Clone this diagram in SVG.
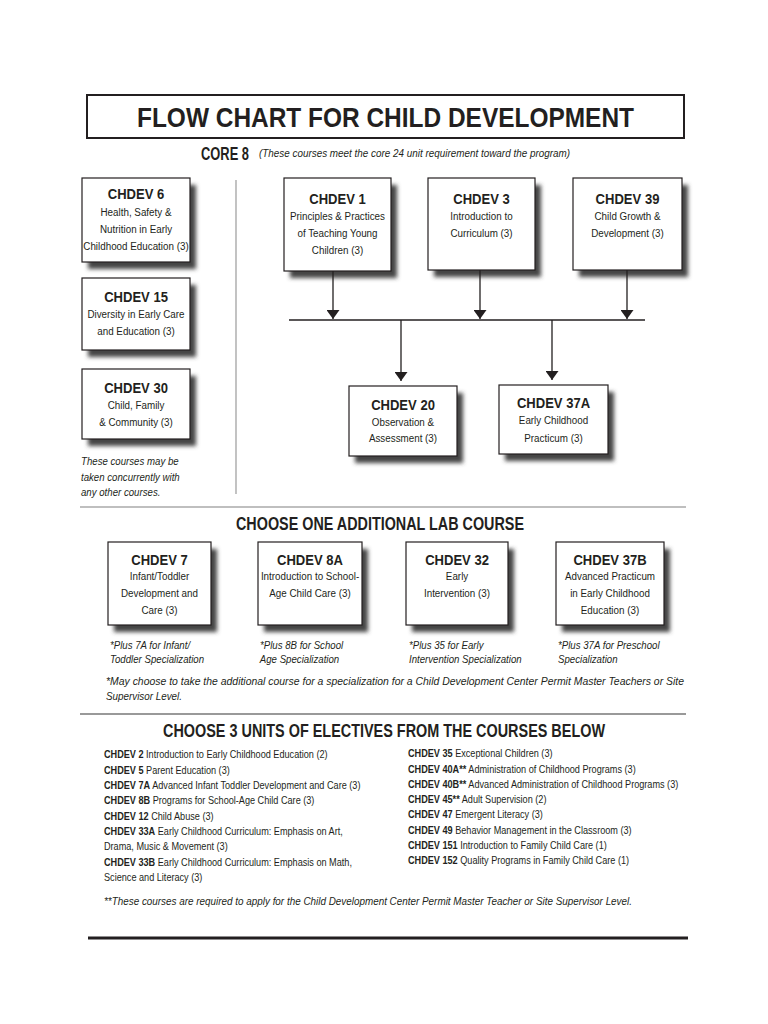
<svg xmlns="http://www.w3.org/2000/svg" width="768" height="1024" viewBox="0 0 768 1024">
<style>
text{font-family:"Liberation Sans",Arial,sans-serif;fill:#231f20}
.t,.d,.n,.e{transform-box:fill-box}
.t{font-size:14.5px;font-weight:bold;text-anchor:middle;transform-origin:center;transform:scaleX(.9)}
.d{font-size:11.5px;text-anchor:middle;transform-origin:center;transform:scaleX(.855)}
.h{font-size:18px;font-weight:bold;text-anchor:middle}
.n{font-size:11.5px;font-style:italic;transform-origin:left;transform:scaleX(.84)}
.e{font-size:10.5px;transform-origin:left;transform:scaleX(.87)}
.e tspan.b{font-weight:bold}
.box{fill:#fff;stroke:#231f20;stroke-width:1.2}
.sh{fill:#444;filter:url(#blur)}
.ln{stroke:#231f20;stroke-width:1.3;fill:none}
</style>
<defs>
<filter id="blur" x="-20%" y="-20%" width="140%" height="140%"><feGaussianBlur stdDeviation="2.2"/></filter>
<marker id="ar" viewBox="0 0 9 13" refX="9" refY="6.5" markerWidth="9" markerHeight="13" markerUnits="userSpaceOnUse" orient="auto"><path d="M0,0 L9,6.5 L0,13 z" fill="#231f20"/></marker>
</defs>
<rect width="768" height="1024" fill="#fff"/>

<g id="title">
<rect x="87" y="95" width="597" height="43" fill="#fff" stroke="#231f20" stroke-width="2"/>
<text x="385.5" y="127" font-size="28" font-weight="bold" text-anchor="middle" textLength="497" lengthAdjust="spacingAndGlyphs">FLOW CHART FOR CHILD DEVELOPMENT</text>
</g>
<g id="core-heading">
<text x="201" y="160" font-size="18.5" font-weight="bold" textLength="48" lengthAdjust="spacingAndGlyphs">CORE 8</text>
<text x="259" y="157" font-size="11" font-style="italic" textLength="311" lengthAdjust="spacingAndGlyphs">(These courses meet the core 24 unit requirement toward the program)</text>
</g>

<g id="chdev6">
<rect class="sh" x="88" y="185" width="108" height="84"/>
<rect class="box" x="82" y="178" width="108" height="84"/>
<text class="t" x="136" y="199">CHDEV 6</text>
<text class="d" x="136" y="216">Health, Safety &amp;</text>
<text class="d" x="136" y="233">Nutrition in Early</text>
<text class="d" x="136" y="250">Childhood Education (3)</text>
</g>
<g id="chdev15">
<rect class="sh" x="88" y="285" width="108" height="72"/>
<rect class="box" x="82" y="278" width="108" height="72"/>
<text class="t" x="136" y="302">CHDEV 15</text>
<text class="d" x="136" y="318">Diversity in Early Care</text>
<text class="d" x="136" y="335">and Education (3)</text>
</g>
<g id="chdev30">
<rect class="sh" x="88" y="376" width="108" height="70"/>
<rect class="box" x="82" y="369" width="108" height="70"/>
<text class="t" x="136" y="393">CHDEV 30</text>
<text class="d" x="136" y="409">Child, Family</text>
<text class="d" x="136" y="426">&amp; Community (3)</text>
</g>
<g id="left-note">
<text class="n" x="81" y="465">These courses may be</text>
<text class="n" x="81" y="481">taken concurrently with</text>
<text class="n" x="81" y="496">any other courses.</text>
</g>

<g id="chdev1">
<rect class="sh" x="290" y="185" width="107" height="93"/>
<rect class="box" x="284" y="178" width="107" height="93"/>
<text class="t" x="337.5" y="204">CHDEV 1</text>
<text class="d" x="337.5" y="220">Principles &amp; Practices</text>
<text class="d" x="337.5" y="237">of Teaching Young</text>
<text class="d" x="337.5" y="254">Children (3)</text>
</g>
<g id="chdev3">
<rect class="sh" x="434" y="185" width="107" height="92"/>
<rect class="box" x="428" y="178" width="107" height="92"/>
<text class="t" x="481.5" y="204">CHDEV 3</text>
<text class="d" x="481.5" y="220">Introduction to</text>
<text class="d" x="481.5" y="237">Curriculum (3)</text>
</g>
<g id="chdev39">
<rect class="sh" x="579" y="185" width="109" height="92"/>
<rect class="box" x="573" y="178" width="109" height="92"/>
<text class="t" x="627.5" y="204">CHDEV 39</text>
<text class="d" x="627.5" y="220">Child Growth &amp;</text>
<text class="d" x="627.5" y="237">Development (3)</text>
</g>
<g id="chdev20">
<rect class="sh" x="355" y="393" width="108" height="70"/>
<rect class="box" x="349" y="386" width="108" height="70"/>
<text class="t" x="403" y="410">CHDEV 20</text>
<text class="d" x="403" y="426">Observation &amp;</text>
<text class="d" x="403" y="442">Assessment (3)</text>
</g>
<g id="chdev37a">
<rect class="sh" x="505" y="392" width="109" height="69"/>
<rect class="box" x="499" y="385" width="109" height="69"/>
<text class="t" x="553.5" y="408">CHDEV 37A</text>
<text class="d" x="553.5" y="424">Early Childhood</text>
<text class="d" x="553.5" y="442">Practicum (3)</text>
</g>

<g id="connectors">
<line x1="236" y1="180" x2="236" y2="494" stroke="#9a9a9a" stroke-width="1.2"/>
<line class="ln" x1="333" y1="271" x2="333" y2="319" marker-end="url(#ar)"/>
<line class="ln" x1="480" y1="270" x2="480" y2="319" marker-end="url(#ar)"/>
<line class="ln" x1="627" y1="270" x2="627" y2="319" marker-end="url(#ar)"/>
<line class="ln" x1="289" y1="320" x2="645" y2="320"/>
<line class="ln" x1="401" y1="320" x2="401" y2="381" marker-end="url(#ar)"/>
<line class="ln" x1="552" y1="320" x2="552" y2="380" marker-end="url(#ar)"/>
<line x1="80" y1="507" x2="686" y2="507" stroke="#aaa" stroke-width="1.3"/>
<line x1="80" y1="714" x2="686" y2="714" stroke="#999" stroke-width="2"/>
<line x1="88" y1="938" x2="688" y2="938" stroke="#231f20" stroke-width="3"/>
</g>

<g id="lab-heading">
<text class="h" x="380" y="530" textLength="288" lengthAdjust="spacingAndGlyphs">CHOOSE ONE ADDITIONAL LAB COURSE</text>
</g>
<g id="chdev7">
<rect class="sh" x="114" y="549" width="103" height="83"/>
<rect class="box" x="108" y="542" width="103" height="83"/>
<text class="t" x="159.5" y="565">CHDEV 7</text>
<text class="d" x="159.5" y="580">Infant/Toddler</text>
<text class="d" x="159.5" y="597">Development and</text>
<text class="d" x="159.5" y="614">Care (3)</text>
</g>
<g id="chdev8a">
<rect class="sh" x="264" y="549" width="104" height="83"/>
<rect class="box" x="258" y="542" width="104" height="83"/>
<text class="t" x="310" y="565">CHDEV 8A</text>
<text class="d" x="310" y="580">Introduction to School-</text>
<text class="d" x="310" y="597">Age Child Care (3)</text>
</g>
<g id="chdev32">
<rect class="sh" x="412" y="549" width="102" height="83"/>
<rect class="box" x="406" y="542" width="102" height="83"/>
<text class="t" x="457" y="565">CHDEV 32</text>
<text class="d" x="457" y="580">Early</text>
<text class="d" x="457" y="597">Intervention (3)</text>
</g>
<g id="chdev37b">
<rect class="sh" x="562" y="549" width="108" height="83"/>
<rect class="box" x="556" y="542" width="108" height="83"/>
<text class="t" x="610" y="565">CHDEV 37B</text>
<text class="d" x="610" y="580">Advanced Practicum</text>
<text class="d" x="610" y="597">in Early Childhood</text>
<text class="d" x="610" y="614">Education (3)</text>
</g>
<g id="lab-notes">
<text class="n" x="110" y="649">*Plus 7A for Infant/</text>
<text class="n" x="110" y="663">Toddler Specialization</text>
<text class="n" x="260" y="649">*Plus 8B for School</text>
<text class="n" x="260" y="663">Age Specialization</text>
<text class="n" x="409" y="649">*Plus 35 for Early</text>
<text class="n" x="409" y="663">Intervention Specialization</text>
<text class="n" x="558" y="649">*Plus 37A for Preschool</text>
<text class="n" x="558" y="663">Specialization</text>
<text x="106" y="685" font-size="11.5" font-style="italic" textLength="578" lengthAdjust="spacingAndGlyphs">*May choose to take the additional course for a specialization for a Child Development Center Permit Master Teachers or Site</text>
<text x="106" y="700" font-size="11.5" font-style="italic" textLength="76" lengthAdjust="spacingAndGlyphs">Supervisor Level.</text>
</g>

<g id="electives">
<text class="h" x="384" y="737" textLength="442" lengthAdjust="spacingAndGlyphs">CHOOSE 3 UNITS OF ELECTIVES FROM THE COURSES BELOW</text>
<text class="e" x="104" y="758"><tspan class="b">CHDEV 2</tspan> Introduction to Early Childhood Education (2)</text>
<text class="e" x="104" y="774"><tspan class="b">CHDEV 5</tspan> Parent Education (3)</text>
<text class="e" x="104" y="789"><tspan class="b">CHDEV 7A</tspan> Advanced Infant Toddler Development and Care (3)</text>
<text class="e" x="104" y="804"><tspan class="b">CHDEV 8B</tspan> Programs for School-Age Child Care (3)</text>
<text class="e" x="104" y="820"><tspan class="b">CHDEV 12</tspan> Child Abuse (3)</text>
<text class="e" x="104" y="835"><tspan class="b">CHDEV 33A</tspan> Early Childhood Curriculum: Emphasis on Art,</text>
<text class="e" x="104" y="850">Drama, Music &amp; Movement (3)</text>
<text class="e" x="104" y="866"><tspan class="b">CHDEV 33B</tspan> Early Childhood Curriculum: Emphasis on Math,</text>
<text class="e" x="104" y="881">Science and Literacy (3)</text>
<text class="e" x="408" y="757"><tspan class="b">CHDEV 35</tspan> Exceptional Children (3)</text>
<text class="e" x="408" y="773"><tspan class="b">CHDEV 40A**</tspan> Administration of Childhood Programs (3)</text>
<text class="e" x="408" y="788"><tspan class="b">CHDEV 40B**</tspan> Advanced Administration of Childhood Programs (3)</text>
<text class="e" x="408" y="803"><tspan class="b">CHDEV 45**</tspan> Adult Supervision (2)</text>
<text class="e" x="408" y="818"><tspan class="b">CHDEV 47</tspan> Emergent Literacy (3)</text>
<text class="e" x="408" y="834"><tspan class="b">CHDEV 49</tspan> Behavior Management in the Classroom (3)</text>
<text class="e" x="408" y="849"><tspan class="b">CHDEV 151</tspan> Introduction to Family Child Care (1)</text>
<text class="e" x="408" y="864"><tspan class="b">CHDEV 152</tspan> Quality Programs in Family Child Care (1)</text>
<text x="104" y="905" font-size="11.5" font-style="italic" textLength="528" lengthAdjust="spacingAndGlyphs">**These courses are required to apply for the Child Development Center Permit Master Teacher or Site Supervisor Level.</text>
</g>
</svg>
